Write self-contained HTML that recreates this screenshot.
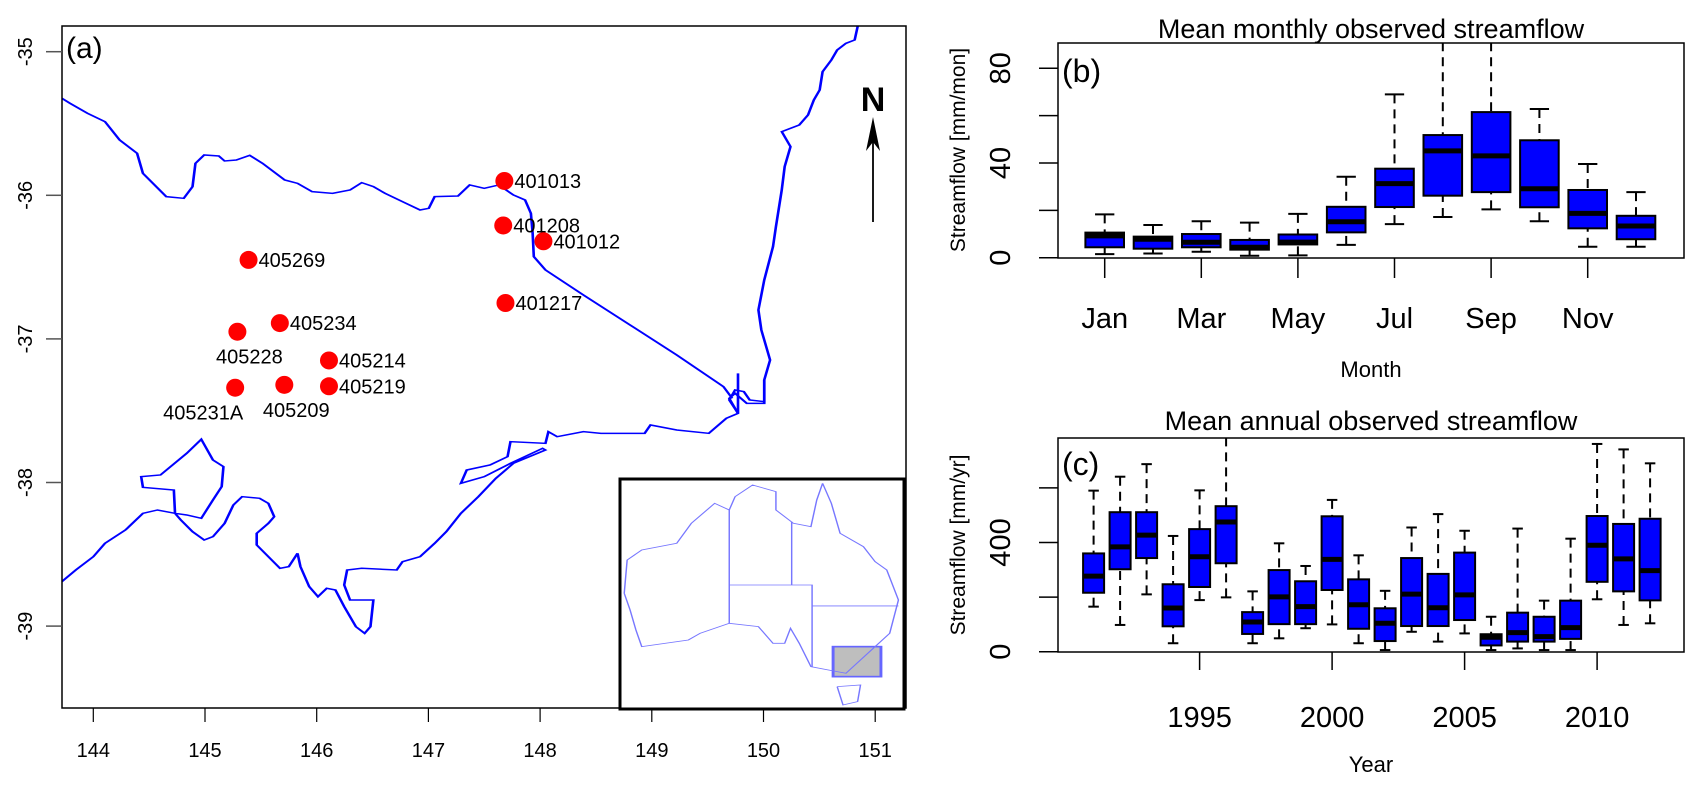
<!DOCTYPE html>
<html><head><meta charset="utf-8"><style>
html,body{margin:0;padding:0;background:#fff}
svg{display:block;font-family:"Liberation Sans",sans-serif}
</style></head><body>
<svg id="fig" width="1701" height="787" viewBox="0 0 1701 787" xmlns="http://www.w3.org/2000/svg">
<g id="mapPanel">
<defs><clipPath id="mapclip"><rect x="62" y="26" width="844" height="682"/></clipPath>
<clipPath id="bclip"><rect x="1058" y="43" width="626" height="215"/></clipPath>
<clipPath id="cclip"><rect x="1058" y="438" width="626" height="214"/></clipPath></defs>
<g clip-path="url(#mapclip)" fill="none" stroke="#0000ff" stroke-width="1.6">
<polyline transform="scale(0.5834,0.3333)" points="106,295 120,310 150,340 180,365 205,420 235,460 245,520 285,590 315,595 330,560 335,490 350,465 375,468 385,483 405,480 428,466 450,490 488,540 510,550 535,575 570,580 600,570 620,548 640,560 660,580 690,605 720,630 735,625 745,590 785,588 805,555 830,565 855,555 880,585 900,600 910,640 913,700 915,770 935,810 1000,885 1080,975 1160,1065 1240,1160 1255,1195" stroke-width="4.5"/>
<polyline transform="scale(0.5834,0.3333)" points="1470,60 1470,80 1465,120 1450,130 1435,150 1425,180 1410,215 1405,270 1395,300 1385,345 1370,375 1340,395 1355,440 1345,500 1340,570 1330,680 1325,740 1310,840 1300,930 1305,990 1320,1080 1310,1140 1310,1205 1285,1200 1275,1175 1260,1170 1250,1200 1265,1240" stroke-width="4.5"/>
<polyline transform="translate(0,380) scale(0.5834,0.3333)" points="1265,-20 1265,100 1245,115 1215,160 1160,150 1115,135 1105,160 1030,160 1000,155 955,170 940,155 935,190 875,185 870,230 840,255 800,270 790,310 830,290 875,250 930,205 935,210 880,250 850,295 820,350 790,400 765,455 745,490 720,530 690,545 680,570 620,565 595,570 590,615 600,660 640,660 635,740 625,760 610,740 590,680 575,630 560,625 545,650 530,620 515,560 510,520 495,560 480,565 440,495 440,460 460,430 470,410 460,370 445,355 415,350 400,375 385,430 365,470 350,480 330,455 310,420 300,400 270,390 245,400 215,450 180,490 160,530 130,570 106,605 60,650" stroke-width="4.5"/>
<polyline transform="translate(0,380) scale(0.5834,0.3333)" points="300,400 298,330 245,322 242,290 275,285 320,220 345,178 365,240 383,260 380,320 365,360 345,415 320,405 300,400" stroke-width="4.5"/>
<polyline transform="translate(0,380) scale(0.5834,0.3333)" points="1310,0 1310,70 1280,70 1260,40 1250,55 1265,100" stroke-width="4.5"/>
</g>
<g id="stations"></g>
<rect x="62" y="26" width="844" height="682" fill="none" stroke="#000" stroke-width="1.5"/>
<text x="66" y="58" font-size="30">(a)</text>
<text x="873" y="111" font-size="34" font-weight="bold" text-anchor="middle">N</text>
<g><line x1="873" y1="125" x2="873" y2="222" stroke="#000" stroke-width="1.8"/><polygon points="873,117 866,151 873,142 880,151" fill="#000"/></g>
<g id="mapAxes"></g>
<g>
<rect x="620" y="479" width="284" height="230" fill="#fff" stroke="#000" stroke-width="3"/>
<g transform="translate(0,380) scale(0.5834,0.3333)" fill="none" stroke="#7777ff" stroke-width="2.5">
<rect x="1428" y="800" width="82" height="90" fill="#bebebe" stroke="#6666ff" stroke-width="5"/>
<polyline points="1070,640 1075,540 1100,510 1160,490 1185,430 1225,370 1250,390 1260,350 1290,315 1330,335 1330,390 1360,430 1390,440 1400,360 1410,310 1425,370 1440,460 1480,500 1500,545 1520,570 1540,660 1525,760 1500,800 1450,880 1420,870 1390,860 1370,790 1355,745 1345,790 1325,790 1300,740 1250,730 1200,760 1180,780 1100,800 1090,750 1080,690 1070,640"/>
<polyline points="1435,920 1475,915 1470,965 1445,975 1435,920"/>
<polyline points="1250,390 1250,730"/>
<polyline points="1250,615 1392,615 1392,860"/>
<polyline points="1357,425 1357,615"/>
<polyline points="1392,678 1540,678"/>
</g></g>
</g>

<g id="panelB">
<text x="1371" y="38" font-size="27" text-anchor="middle">Mean monthly observed streamflow</text>
<g id="bMarks" clip-path="url(#bclip)"></g>
<rect x="1058" y="43" width="626" height="215" fill="none" stroke="#000" stroke-width="1.5"/>
<text x="1062" y="82" font-size="32">(b)</text>
<g id="bAxes"></g>
<text transform="translate(965,150) rotate(-90)" font-size="21" text-anchor="middle">Streamflow [mm/mon]</text>
<text x="1371" y="377" font-size="22" text-anchor="middle">Month</text>
</g>

<g id="panelC">
<text x="1371" y="430" font-size="27" text-anchor="middle">Mean annual observed streamflow</text>
<g id="cMarks" clip-path="url(#cclip)"></g>
<rect x="1058" y="438" width="626" height="214" fill="none" stroke="#000" stroke-width="1.5"/>
<text x="1062" y="475" font-size="32">(c)</text>
<g id="cAxes"></g>
<text transform="translate(965,545) rotate(-90)" font-size="21" text-anchor="middle">Streamflow [mm/yr]</text>
<text x="1371" y="772" font-size="22" text-anchor="middle">Year</text>
</g>
</svg>
<script>
// ---- map data ----
const stationIds = ["401013","401208","401012","405269","401217","405234","405228","405214","405219","405209","405231A"];
const stationLon = [147.68,147.67,148.03,145.39,147.69,145.67,145.29,146.11,146.11,145.71,145.27];
const stationLat = [-35.90,-36.21,-36.32,-36.45,-36.75,-36.89,-36.95,-37.15,-37.33,-37.32,-37.34];
const labelPos = ["r","r","r","r","r","r","b","r","r","b","b"];
const lonTicks = [144,145,146,147,148,149,150,151];
const latTicks = [-35,-36,-37,-38,-39];
// ---- monthly data ----
const months = ["Jan","Feb","Mar","Apr","May","Jun","Jul","Aug","Sep","Oct","Nov","Dec"];
const mLow = [1.5,1.8,2.5,0.8,1.0,5.4,14.2,17.2,20.4,15.4,4.6,4.6];
const mQ1  = [4.4,3.8,4.4,3.4,5.6,10.7,21.4,26.2,27.7,21.3,12.4,7.8];
const mMed = [9.2,7.8,6.5,4.4,6.6,15.2,31.3,45.1,43.0,29.1,18.7,13.4];
const mQ3  = [10.6,8.9,10.0,7.5,9.8,21.5,37.6,51.8,61.5,49.6,28.6,17.7];
const mHigh= [18.3,13.8,15.4,14.8,18.5,34.2,69.0,110,110,62.8,39.6,27.7];
const monthTickLabels = ["Jan","Mar","May","Jul","Sep","Nov"];
const mYTicks = [0,20,40,60,80];
const mYLabels = ["0","","40","","80"];
// ---- annual data ----
const years = [1991,1992,1993,1994,1995,1996,1997,1998,1999,2000,2001,2002,2003,2004,2005,2006,2007,2008,2009,2010,2011,2012];
const aLow = [165,98,210,31,189,199,31,49,86,100,31,6,73,37,67,6,12,6,6,192,98,104];
const aQ1  = [216,302,343,93,237,324,65,101,101,226,84,39,94,94,116,23,37,37,47,256,221,188];
const aMed = [277,384,427,160,348,475,109,201,165,338,172,104,211,161,208,53,70,55,88,390,340,297];
const aQ3  = [360,511,511,247,449,533,145,299,258,496,265,159,343,285,363,64,143,128,187,497,468,487];
const aHigh= [590,641,687,424,591,950,221,397,314,556,353,223,455,504,443,128,451,187,414,761,741,690];
const yearTicks = [1995,2000,2005,2010];
const aYTicks = [0,200,400,600];
const aYLabels = ["0","","400",""];

const NS="http://www.w3.org/2000/svg";
function mk(tag,attrs,parent){const e=document.createElementNS(NS,tag);for(const k in attrs)e.setAttribute(k,attrs[k]);parent.appendChild(e);return e;}

// map scales
const lonX = lon => 93.3 + (lon-144)*111.7;
const latY = lat => 51.7 + (-35-lat)*143.6;
const st = document.getElementById('stations');
stationIds.forEach((id,i)=>{
  const x=lonX(stationLon[i]), y=latY(stationLat[i]);
  const c=mk('circle',{cx:x,cy:y,r:9,fill:'#ff0000'},st);
  
  
  let t;
  if(labelPos[i]==='r') t=mk('text',{x:x+10,y:y+7,'font-size':20},st);
  else t=mk('text',{x:x+12,y:y+32,'font-size':20,'text-anchor':'middle'},st);
  if(id==='405231A'){t.setAttribute('x',x-32);t.setAttribute('y',y+32);}
  t.textContent=id;
  
  
});
const ma=document.getElementById('mapAxes');
lonTicks.forEach(v=>{
  const x=lonX(v);
  const l=mk('line',{x1:x,y1:708,x2:x,y2:722,stroke:'#000','stroke-width':1.2},ma);
  
  
  const t=mk('text',{x:x,y:757,'font-size':20,'text-anchor':'middle'},ma);
  t.textContent=v;
  
  
});
latTicks.forEach(v=>{
  const y=latY(v);
  const l=mk('line',{x1:46,y1:y,x2:62,y2:y,stroke:'#555','stroke-width':1.5},ma);
  
  
  const t=mk('text',{transform:`translate(32,${y}) rotate(-90)`,'font-size':20,'text-anchor':'middle'},ma);
  t.textContent=v;
  
  
});

function drawBoxes(g,axes,n,x0,dx,bw,yFn,low,q1,med,q3,high,prefix,cats){
  for(let i=0;i<n;i++){
    const x=x0+i*dx, h=bw/2, cap=bw/4;
    const grp=mk('g',{},g);
    
    
    mk('line',{x1:x,y1:yFn(high[i]),x2:x,y2:yFn(q3[i]),stroke:'#000','stroke-width':2,'stroke-dasharray':'9,6'},grp);
    mk('line',{x1:x,y1:yFn(low[i]),x2:x,y2:yFn(q1[i]),stroke:'#000','stroke-width':2,'stroke-dasharray':'9,6'},grp);
    mk('line',{x1:x-cap,y1:yFn(high[i]),x2:x+cap,y2:yFn(high[i]),stroke:'#000','stroke-width':2},grp);
    mk('line',{x1:x-cap,y1:yFn(low[i]),x2:x+cap,y2:yFn(low[i]),stroke:'#000','stroke-width':2},grp);
    mk('rect',{x:x-h,y:yFn(q3[i]),width:bw,height:yFn(q1[i])-yFn(q3[i]),fill:'#0000ff',stroke:'#000','stroke-width':2},grp);
    mk('line',{x1:x-h,y1:yFn(med[i]),x2:x+h,y2:yFn(med[i]),stroke:'#000','stroke-width':5},grp);
  }
}
// monthly
const mY = v => 257.7 - v*2.3675;
const mX = i => 1104.7 + i*48.3;
drawBoxes(document.getElementById('bMarks'),null,12,1104.7,48.3,38.6,mY,mLow,mQ1,mMed,mQ3,mHigh,'month-box',months);
const ba=document.getElementById('bAxes');
mYTicks.forEach((v,i)=>{
  const l=mk('line',{x1:1039,y1:mY(v),x2:1058,y2:mY(v),stroke:'#000','stroke-width':1.5},ba);
  
  
  if(mYLabels[i]){const t=mk('text',{transform:`translate(1010,${mY(v)}) rotate(-90)`,'font-size':29,'text-anchor':'middle'},ba);t.textContent=mYLabels[i];
  
  }
});
monthTickLabels.forEach(m=>{
  const x=mX(months.indexOf(m));
  const l=mk('line',{x1:x,y1:258,x2:x,y2:278,stroke:'#000','stroke-width':1.5},ba);
  
  
  const t=mk('text',{x:x,y:328,'font-size':29,'text-anchor':'middle'},ba);
  t.textContent=m;
  
  
});
// annual
const aY = v => 651.7 - v*0.273;
const aX = yr => 1093.6 + (yr-1991)*26.5;
drawBoxes(document.getElementById('cMarks'),null,22,1093.6,26.5,21,aY,aLow,aQ1,aMed,aQ3,aHigh,'year-box',years);
const ca=document.getElementById('cAxes');
aYTicks.forEach((v,i)=>{
  const l=mk('line',{x1:1039,y1:aY(v),x2:1058,y2:aY(v),stroke:'#000','stroke-width':1.5},ca);
  
  
  if(aYLabels[i]){const t=mk('text',{transform:`translate(1010,${aY(v)}) rotate(-90)`,'font-size':29,'text-anchor':'middle'},ca);t.textContent=aYLabels[i];
  
  }
});
yearTicks.forEach(yr=>{
  const x=aX(yr);
  const l=mk('line',{x1:x,y1:652,x2:x,y2:670,stroke:'#000','stroke-width':1.5},ca);
  
  
  const t=mk('text',{x:x,y:727,'font-size':29,'text-anchor':'middle'},ca);
  t.textContent=yr;
  
  
});
</script>
</body></html>
